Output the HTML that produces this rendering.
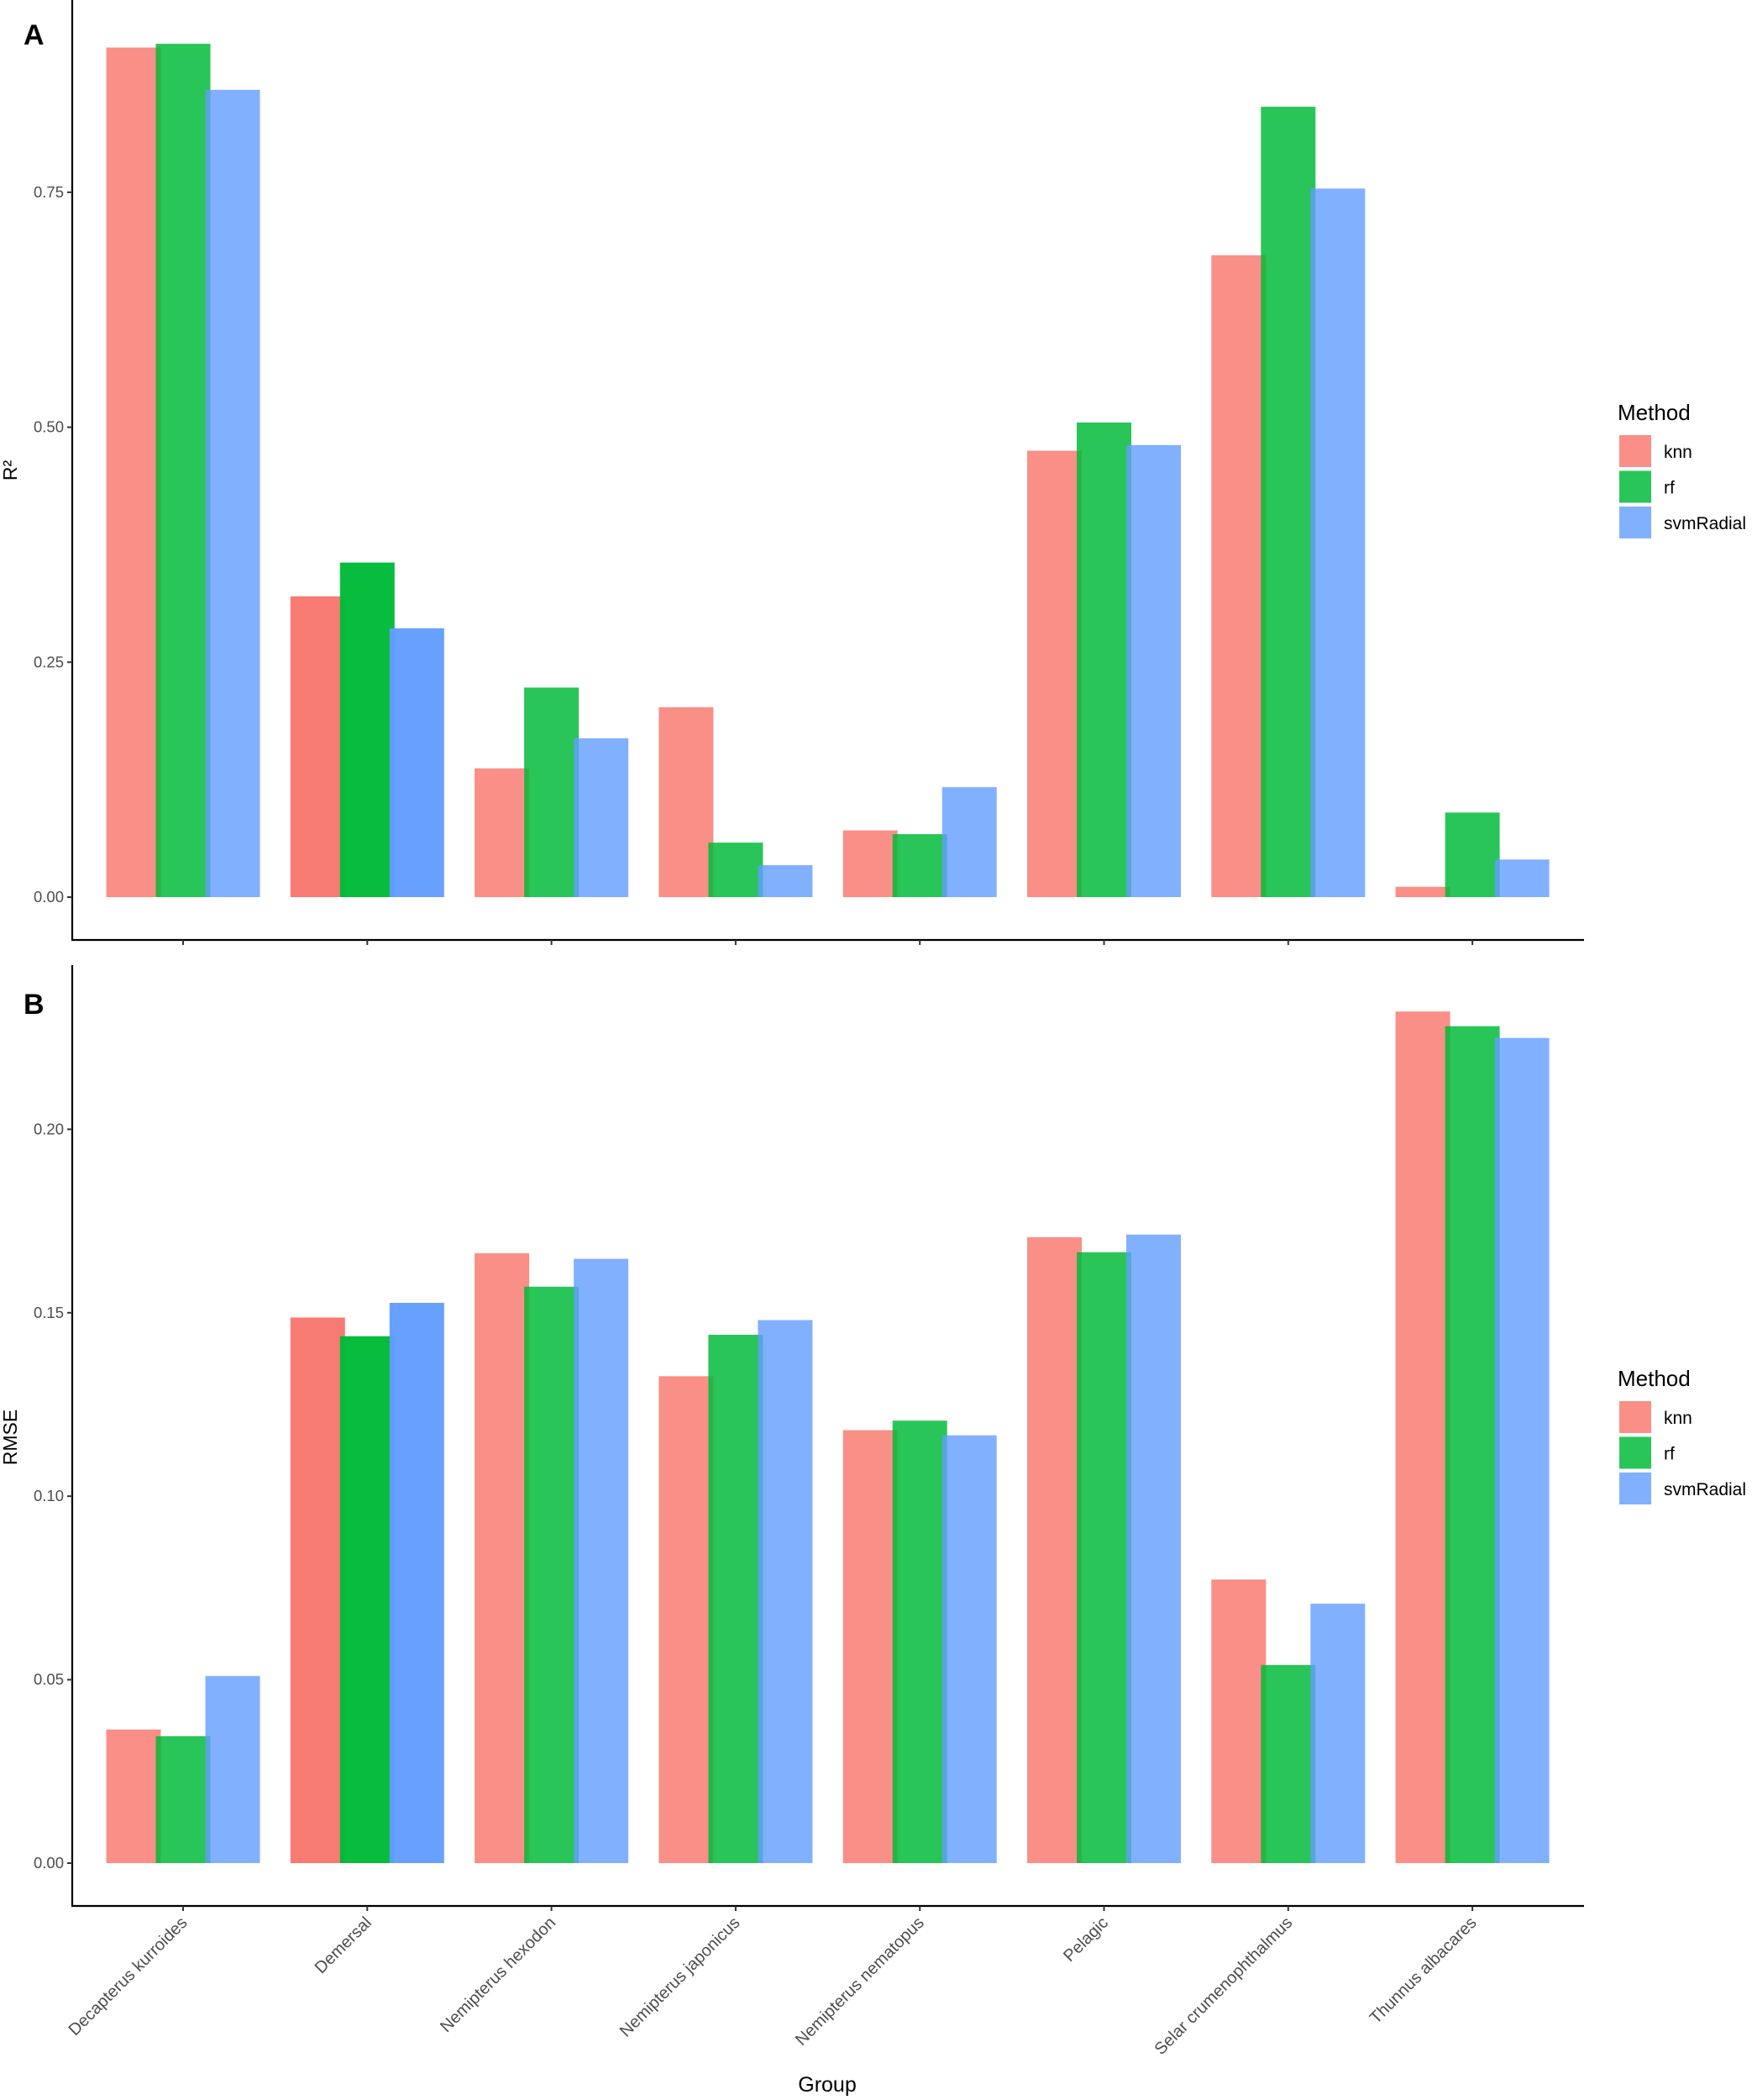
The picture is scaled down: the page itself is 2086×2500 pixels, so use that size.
<!DOCTYPE html>
<html><head><meta charset="utf-8"><style>
html,body{margin:0;padding:0;background:#fff}
svg{display:block;font-family:"Liberation Sans",Arial,sans-serif}
</style></head><body>
<svg id="chart" width="2086" height="2500" viewBox="0 0 2086 2500" xmlns="http://www.w3.org/2000/svg"></svg>
<script>
const groups = ["Decapterus kurroides","Demersal","Nemipterus hexodon","Nemipterus japonicus","Nemipterus nematopus","Pelagic","Selar crumenophthalmus","Thunnus albacares"];
const methods = ["knn","rf","svmRadial"];
const r2Knn = [0.904,0.320,0.137,0.202,0.071,0.475,0.683,0.011];
const r2Rf  = [0.908,0.356,0.223,0.058,0.067,0.505,0.841,0.090];
const r2Svm = [0.859,0.286,0.169,0.034,0.117,0.481,0.754,0.040];
const rmseKnn = [0.0364,0.1487,0.1662,0.1327,0.118,0.1706,0.0773,0.2321];
const rmseRf  = [0.0346,0.1436,0.1571,0.144,0.1206,0.1665,0.054,0.2281];
const rmseSvm = [0.051,0.1527,0.1647,0.148,0.1166,0.1713,0.0707,0.2249];
const r2Ticks = [0,0.25,0.5,0.75];
const r2TickLabels = ["0.00","0.25","0.50","0.75"];
const rmseTicks = [0,0.05,0.1,0.15,0.2];
const rmseTickLabels = ["0.00","0.05","0.10","0.15","0.20"];

const NS="http://www.w3.org/2000/svg";
const svg=document.getElementById('chart');
function el(tag,attrs,parent){const e=document.createElementNS(NS,tag);for(const k in attrs)e.setAttribute(k,attrs[k]);(parent||svg).appendChild(e);return e;}
const fills=["rgba(248,118,109,0.82)","rgba(0,186,56,0.84)","rgba(97,156,255,0.8)"];
const fillsDem=["rgba(248,118,109,0.96)","rgba(0,186,56,0.97)","rgba(97,156,255,0.96)"];
const xLeft=86,xRight=1886;
function xScale(i){return 218+i*219.3;}
const offsets=[-59,0,59];const bw=65;

function panel(cfg){
  const g=el('g',{});
  
  
  const y=v=>cfg.zero-v*cfg.perUnit;
  const series=cfg.series;
  for(let m=0;m<3;m++){
    for(let i=0;i<groups.length;i++){
      const v=series[m][i];
      const r=el('rect',{x:xScale(i)+offsets[m]-bw/2,y:y(v),width:bw,height:cfg.zero-y(v),fill:(i===1?fillsDem:fills)[m]},g);
      
      
    }
  }
  const ya=el('line',{x1:xLeft,y1:cfg.top,x2:xLeft,y2:cfg.axisY,stroke:'#000','stroke-width':2.2},g);
  
  const xa=el('line',{x1:xLeft-1,y1:cfg.axisY,x2:xRight,y2:cfg.axisY,stroke:'#000','stroke-width':2.2},g);
  
  cfg.ticks.forEach((t,k)=>{
    el('line',{x1:xLeft-6,y1:y(t),x2:xLeft,y2:y(t),stroke:'#333','stroke-width':2},g);
    const tl=el('text',{x:xLeft-10,y:y(t)+6,'text-anchor':'end','font-size':18.5,fill:'#4d4d4d'},g);
    tl.textContent=cfg.labels[k];
    
  });
  for(let i=0;i<groups.length;i++) el('line',{x1:xScale(i),y1:cfg.axisY,x2:xScale(i),y2:cfg.axisY+6,stroke:'#333','stroke-width':2},g);
  const yt=el('text',{transform:`translate(20,${cfg.titleY}) rotate(-90)`,'text-anchor':'middle','font-size':23,fill:'#000'},g);
  yt.textContent=cfg.title;
  const pl=el('text',{x:28,y:cfg.letterY,'font-size':34,'font-weight':'bold',fill:'#000'},g);
  pl.textContent=cfg.letter;
  const lg=el('g',{},g);
  const lt=el('text',{x:1926,y:cfg.legY,'font-size':26,fill:'#000'},lg);lt.textContent='Method';
  
  for(let m=0;m<3;m++){
    const ky=cfg.legY+18+m*42.5;
    const k=el('rect',{x:1928,y:ky,width:38,height:38,fill:fills[m]},lg);
    
    const kt=el('text',{x:1981,y:ky+27,'font-size':21,fill:'#000'},lg);kt.textContent=methods[m];
    
  }
}
panel({name:'panel-a-r2',series:[r2Knn,r2Rf,r2Svm],zero:1068,perUnit:1118.8,top:0,axisY:1119,ticks:r2Ticks,labels:r2TickLabels,title:'R²',titleY:560,letter:'A',letterY:53,legY:500});
panel({name:'panel-b-rmse',series:[rmseKnn,rmseRf,rmseSvm],zero:2218,perUnit:4368,top:1149,axisY:2269,ticks:rmseTicks,labels:rmseTickLabels,title:'RMSE',titleY:1711,letter:'B',letterY:1207,legY:1650});
for(let i=0;i<groups.length;i++){
  const t=el('text',{transform:`translate(${xScale(i)+6},2290) rotate(-45)`,'text-anchor':'end','font-size':20,fill:'#4d4d4d'});
  t.textContent=groups[i];
  
  
}
const xt=el('text',{x:985,y:2490,'text-anchor':'middle','font-size':25,fill:'#000'});
xt.textContent='Group';


</script>
</body></html>
